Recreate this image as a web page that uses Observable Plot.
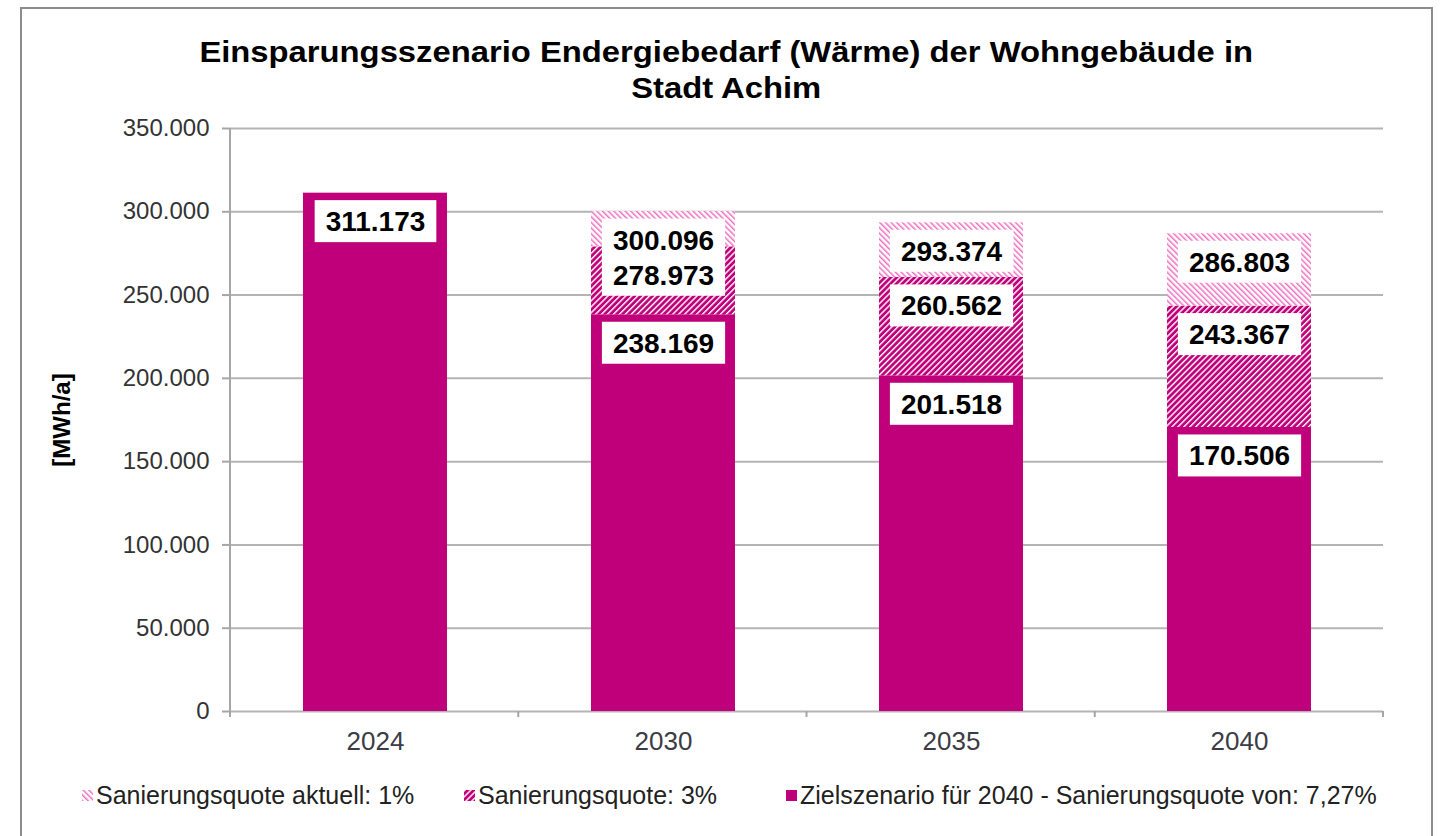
<!DOCTYPE html>
<html>
<head>
<meta charset="utf-8">
<script src="https://cdn.jsdelivr.net/npm/d3@7"></script>
<script src="https://cdn.jsdelivr.net/npm/@observablehq/plot@0.6"></script>
<style>
  html, body { margin: 0; padding: 0; background: #fff; }
  #wrap { position: relative; width: 1443px; height: 836px; overflow: hidden; font-family: "Liberation Sans", Arial, sans-serif; background: #fff; }
  #border { position: absolute; left: 20px; top: 7px; width: 1409px; height: 900px; border: 2px solid #8c8c8c; box-sizing: content-box; z-index: 5; pointer-events: none; }
  #title { position: absolute; left: 20px; width: 1413px; top: 34px; text-align: center; z-index: 2; }
  #title span { display: inline-block; font-weight: bold; font-size: 29px; line-height: 36px; color: #000; transform: scaleX(1.13); transform-origin: center; }
  #chart { position: absolute; left: 0; top: 0; z-index: 1; }
  #legend { position: absolute; left: 0; top: 781px; width: 1443px; height: 34px; font-size: 25px; color: #222; z-index: 2; }
  .item { position: absolute; top: 0; display: flex; align-items: center; white-space: nowrap; }
  .item svg { margin-right: 3px; }
</style>
</head>
<body>
<div id="wrap">
  <div id="chart"></div>
  <div id="title"><span>Einsparungsszenario Endergiebedarf (Wärme) der Wohngebäude in<br>Stadt Achim</span></div>
  <div id="legend"></div>
  <div id="border"></div>
</div>
<script>
// ---- data ----
const years = ["2024", "2030", "2035", "2040"];
const zielszenario = [311173, 238169, 201518, 170506];      // solid
const quote3 = [null, 278973, 260562, 243367];             // dense hatch (top value)
const quote1 = [null, 300096, 293374, 286803];             // light hatch (top value)
const seriesNames = ["Sanierungsquote aktuell: 1%", "Sanierungsquote: 3%", "Zielszenario für 2040 - Sanierungsquote von: 7,27%"];
const yTicks = [0, 50000, 100000, 150000, 200000, 250000, 300000, 350000];
const yLabel = "[MWh/a]";

const MAGENTA = "#c0007a";
const fmt = v => d3.format(",")(v).replace(/,/g, ".");

const solidRows = years.map((y, i) => ({year: y, y1: 0, y2: zielszenario[i]}));
const denseRows = years.map((y, i) => ({year: y, y1: zielszenario[i], y2: quote3[i]})).filter(d => d.y2 != null);
const lightRows = years.map((y, i) => ({year: y, y1: quote3[i], y2: quote1[i]})).filter(d => d.y2 != null);
const labelRows = [];
years.forEach((y, i) => {
  labelRows.push({year: y, value: zielszenario[i]});
  if (quote3[i] != null) labelRows.push({year: y, value: quote3[i]});
  if (quote1[i] != null) labelRows.push({year: y, value: quote1[i]});
});
const labelSet = new Set(labelRows.map(d => fmt(d.value)));

const W = 1443, H = 770;
const plot = Plot.plot({
  width: W, height: H,
  marginLeft: 230, marginRight: 60, marginTop: 128, marginBottom: 59,
  style: {fontFamily: "'Liberation Sans', Arial, sans-serif", background: "transparent", overflow: "visible"},
  x: {domain: years, paddingInner: 0.5, paddingOuter: 0.25, axis: null},
  y: {domain: [0, 350000], axis: null},
  marks: [
    Plot.gridY(yTicks, {stroke: "#b4b4b4", strokeWidth: 2, strokeOpacity: 1}),
    Plot.axisY({ticks: yTicks, tickFormat: fmt, tickSize: 8, tickPadding: 13, fontSize: 24, stroke: "#a6a6a6", strokeWidth: 2, fill: "#333", label: null}),
    Plot.axisX({tickSize: 0, tickPadding: 20, fontSize: 26, fill: "#3c3c46", label: null}),
    Plot.barY(solidRows, {x: "year", y1: "y1", y2: "y2", fill: MAGENTA}),
    Plot.barY(denseRows, {x: "year", y1: "y1", y2: "y2", fill: "url(#hatchDense)"}),
    Plot.barY(lightRows, {x: "year", y1: "y1", y2: "y2", fill: "url(#hatchLight)"}),
    // axis lines and category boundary ticks
    (index, scales, values, dims) => {
      const g = d3.create("svg:g").attr("stroke", "#a6a6a6").attr("stroke-width", 2);
      const x0 = dims.marginLeft, x1 = dims.width - dims.marginRight;
      const yb = dims.height - dims.marginBottom, yt = dims.marginTop;
      g.append("line").attr("x1", x0).attr("x2", x0).attr("y1", yt).attr("y2", yb + 6);
      const n = years.length;
      for (let i = 0; i <= n; i++) {
        const xx = x0 + i * (x1 - x0) / n;
        g.append("line").attr("x1", xx).attr("x2", xx).attr("y1", yb).attr("y2", yb + 6);
      }
      return g.node();
    },
    Plot.text(labelRows, {x: "year", y: "value", text: d => fmt(d.value), dy: 29, fontSize: 28, fontWeight: "bold", fill: "#000"}),
    Plot.text([yLabel], {frameAnchor: "left", textAnchor: "middle", dx: -168, rotate: -90, fontSize: 24, fontWeight: "bold", fill: "#000"})
  ]
});

// patterns
const defs = d3.select(plot).insert("defs", ":first-child");
const pl = defs.append("pattern").attr("id", "hatchLight").attr("patternUnits", "userSpaceOnUse")
  .attr("width", 4).attr("height", 4).attr("patternTransform", "rotate(-45)");
pl.append("rect").attr("width", 4).attr("height", 4).attr("fill", "#fff");
pl.append("rect").attr("width", 1.5).attr("height", 4).attr("fill", "#ef6fc0");
const pd = defs.append("pattern").attr("id", "hatchDense").attr("patternUnits", "userSpaceOnUse")
  .attr("width", 4.2).attr("height", 4.2).attr("patternTransform", "rotate(45)");
pd.append("rect").attr("width", 4.2).attr("height", 4.2).attr("fill", MAGENTA);
pd.append("rect").attr("width", 1.4).attr("height", 4.2).attr("fill", "#fff");

document.getElementById("chart").appendChild(plot);

// white boxes behind value labels
d3.select(plot).selectAll("text").filter(function () { return labelSet.has(this.textContent); }).each(function () {
  const b = this.getBBox();
  const t = this;
  const r = document.createElementNS("http://www.w3.org/2000/svg", "rect");
  r.setAttribute("x", b.x - 11);
  r.setAttribute("y", b.y - 6);
  r.setAttribute("width", b.width + 22);
  r.setAttribute("height", b.height + 11);
  r.setAttribute("fill", "#fff");
  r.setAttribute("stroke", "none");
  const tr = t.getAttribute("transform");
  if (tr) r.setAttribute("transform", tr);
  t.parentNode.insertBefore(r, t);
});

// legend
const legend = d3.select("#legend");
const swFills = ["url(#hatchLight)", "url(#hatchDense)", MAGENTA];
const itemLeft = [82, 464, 786];
seriesNames.forEach((name, i) => {
  const it = legend.append("div").attr("class", "item").style("left", itemLeft[i] + "px");
  const s = it.append("svg").attr("width", 11).attr("height", 11);
  s.append("rect").attr("width", 11).attr("height", 11).attr("fill", swFills[i]);
  it.append("span").text(name);
});
</script>
</body>
</html>
